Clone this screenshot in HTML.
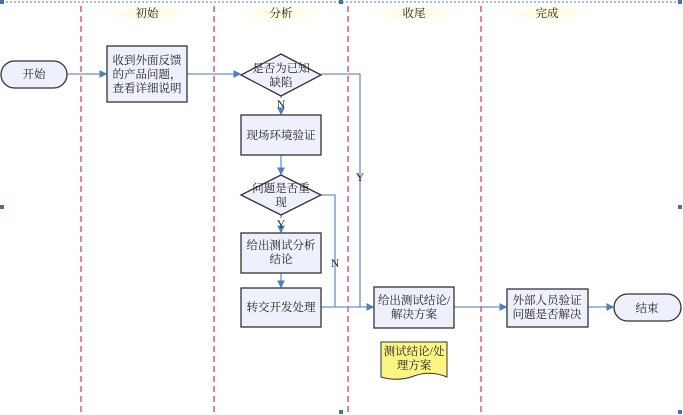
<!DOCTYPE html>
<html><head><meta charset="utf-8"><style>
html,body{margin:0;padding:0;background:#fff;}
svg{display:block;}
text{font-family:"Liberation Serif","Noto Serif CJK SC","Noto Sans CJK SC",serif;font-size:11.5px;fill:#222;}
</style></head><body>
<svg width="683" height="415" viewBox="0 0 683 415" xmlns="http://www.w3.org/2000/svg">
<defs>
<radialGradient id="hg" cx="0.5" cy="0.5" r="0.5"><stop offset="0" stop-color="#fffbd0"/><stop offset="1" stop-color="#ffffff"/></radialGradient>
<marker id="a" markerWidth="6" markerHeight="6" refX="5" refY="3" orient="auto"><path d="M0,0 L6,3 L0,6 z" fill="#4f7fbf"/></marker>
</defs>
<line x1="2" y1="2" x2="681" y2="2" stroke="#4f7fbf" stroke-dasharray="2,2" stroke-width="1"/>
<g fill="#4a6fa5">
<rect x="0" y="0" width="4" height="4"/><rect x="339" y="0" width="4" height="4"/><rect x="678" y="0" width="4" height="4"/>
<rect x="0" y="205" width="4" height="4"/><rect x="678" y="205" width="4" height="4"/>
<rect x="339" y="410" width="4" height="4"/><rect x="678" y="410" width="4" height="4"/>
</g>
<g fill="url(#hg)">
<rect x="105" y="4" width="84" height="18"/><rect x="239" y="4" width="84" height="18"/>
<rect x="372" y="4" width="84" height="18"/><rect x="505" y="4" width="84" height="18"/>
</g>
<text x="147" y="17" text-anchor="middle">初始</text>
<text x="281" y="17" text-anchor="middle">分析</text>
<text x="414" y="17" text-anchor="middle">收尾</text>
<text x="547" y="17" text-anchor="middle">完成</text>
<g stroke="#e0405a" stroke-width="1.3" stroke-dasharray="6,4">
<line x1="81" y1="6" x2="81" y2="415"/><line x1="214" y1="6" x2="214" y2="415"/>
<line x1="348" y1="6" x2="348" y2="415"/><line x1="481" y1="6" x2="481" y2="415"/>
</g>
<g stroke="#6f8fcf" stroke-width="1.3" fill="none">
<line x1="67" y1="74" x2="106" y2="74" marker-end="url(#a)"/>
<line x1="187" y1="74" x2="240" y2="74" marker-end="url(#a)"/>
<polyline points="321,74 360,74 360,307"/>
<line x1="281" y1="155" x2="281" y2="174" marker-end="url(#a)"/>
<line x1="281" y1="215" x2="281" y2="218"/>
<line x1="281" y1="229" x2="281" y2="232" marker-end="url(#a)"/>
<line x1="281" y1="273" x2="281" y2="287" marker-end="url(#a)"/>
<polyline points="321,195 335,195 335,307"/>
<line x1="321" y1="307" x2="373" y2="307" marker-end="url(#a)"/>
<line x1="454" y1="307" x2="506" y2="307" marker-end="url(#a)"/>
<line x1="588" y1="307" x2="613" y2="307" marker-end="url(#a)"/>
<line x1="281" y1="96" x2="281" y2="98"/>
<line x1="281" y1="109" x2="281" y2="114" marker-end="url(#a)"/>
</g>
<g fill="#eef0fb" stroke="#333" stroke-width="1.3">
<rect x="1" y="61" width="66" height="27" rx="13.5"/>
<rect x="107" y="46" width="80" height="56"/>
<polygon points="281,54 321,75 281,96 241,75"/>
<rect x="241" y="115" width="80" height="40"/>
<polygon points="281,175 321,195 281,215 241,195"/>
<rect x="241" y="233" width="80" height="40"/>
<rect x="241" y="288" width="80" height="39"/>
<rect x="374" y="287" width="80" height="41"/>
<rect x="507" y="289" width="81" height="38"/>
<rect x="614" y="294" width="67" height="27" rx="13.5"/>
</g>
<path d="M381,342 H447 V377 Q430,370 414,376 Q398,382 381,377 Z" fill="#fbf584" stroke="#333" stroke-width="1"/>
<text x="34" y="78" text-anchor="middle">开始</text>
<text x="147" y="64" text-anchor="middle">收到外面反馈</text>
<text x="147" y="78" text-anchor="middle">的产品问题，</text>
<text x="147" y="92" text-anchor="middle">查看详细说明</text>
<text x="281" y="72" text-anchor="middle">是否为已知</text>
<text x="281" y="86" text-anchor="middle">缺陷</text>
<text x="281" y="108" text-anchor="middle">N</text>
<text x="281" y="139" text-anchor="middle">现场环境验证</text>
<text x="281" y="192" text-anchor="middle">问题是否重</text>
<text x="281" y="206" text-anchor="middle">现</text>
<text x="281" y="228" text-anchor="middle">Y</text>
<text x="281" y="249" text-anchor="middle">给出测试分析</text>
<text x="281" y="263" text-anchor="middle">结论</text>
<text x="281" y="311" text-anchor="middle">转交开发处理</text>
<text x="335" y="267" text-anchor="middle">N</text>
<text x="360" y="181" text-anchor="middle">Y</text>
<text x="414" y="304" text-anchor="middle">给出测试结论/</text>
<text x="414" y="318" text-anchor="middle">解决方案</text>
<text x="414" y="355" text-anchor="middle">测试结论/处</text>
<text x="414" y="369" text-anchor="middle">理方案</text>
<text x="547" y="304" text-anchor="middle">外部人员验证</text>
<text x="547" y="318" text-anchor="middle">问题是否解决</text>
<text x="647" y="312" text-anchor="middle">结束</text>
</svg>
</body></html>
